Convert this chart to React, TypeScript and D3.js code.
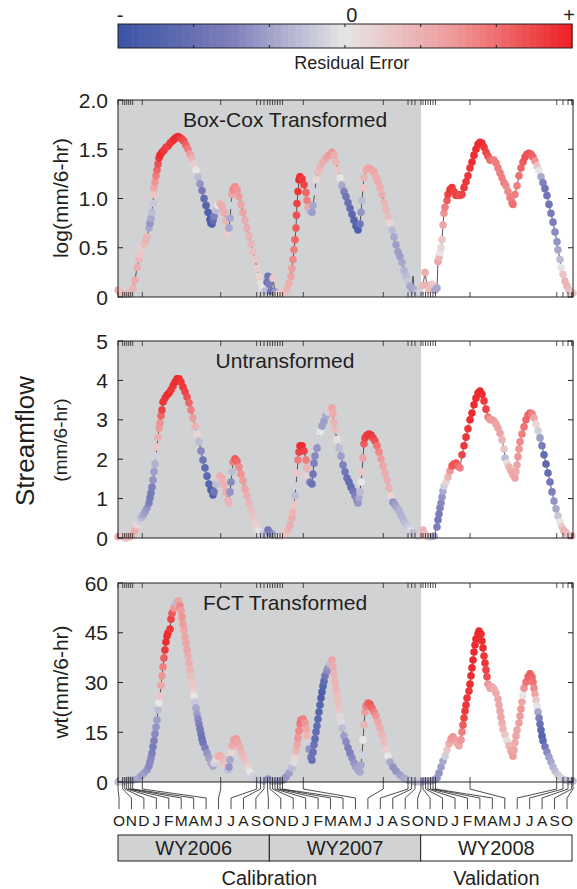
import * as React from "react"
import * as d3 from "d3"

const W = 577
const H = 889
const FONT = "'Liberation Sans', Arial, Helvetica, sans-serif"

// month boundaries (Oct 2005 .. Oct 2008) on the plotted time index
const monthTicks = [
  0, 4.7, 6.7, 8.7, 10.7, 12.7, 14.7, 24.3, 102.7, 138.7, 142.5, 146, 149.5,
  152, 154.5, 157, 159.5, 162, 164.5, 185.3, 265.3, 290, 293.7, 297, 303,
  305, 307.5, 310, 312.5, 315, 317.5, 352, 438.7, 445, 450, 453.7, 455,
]
const monthNames = ["O", "N", "D", "J", "F", "M", "A", "M", "J", "J", "A", "S"]
const monthLabels = [...monthNames, ...monthNames, ...monthNames, "O"]
const waterYears = ["WY2006", "WY2007", "WY2008"]
const periods = ["Calibration", "Validation"]
const calibrationEnd = 303

// [time index, value, residual error (-1..1)]
const boxCox = [
  [0, .07, .3], [3, .04, .25], [7, .03, .3], [11, .03, .25], [15, .09, .3], [17, .17, .35], [19, .3, .35], [21, .38, .3],
  [22, .43, .2], [24, .5, .15], [26, .53, .25], [28, .58, .35], [29, .61, .3], [31, .7, -.3], [32, .75, -.4], [33, .8, -.3],
  [34, .86, -.2], [35, .95, -.15], [35.5, 1.04, .2], [36, 1.11, .4], [37, 1.17, .5], [38, 1.23, .6], [39, 1.29, .7], [40, 1.35, .8],
  [41, 1.41, .9], [42, 1.44, .95], [44, 1.47, .95], [46, 1.49, .9], [48, 1.52, .9], [50, 1.53, .85], [52, 1.56, .9], [54, 1.58, .9],
  [56, 1.6, .95], [58, 1.62, .95], [60, 1.63, .95], [62, 1.62, .9], [64, 1.6, .85], [66, 1.58, .8], [68, 1.54, .7], [70, 1.5, .6],
  [72, 1.45, .45], [74, 1.4, .3], [76, 1.35, .15], [78, 1.29, 0], [80, 1.22, -.2], [82, 1.15, -.4], [84, 1.08, -.55], [86, 1, -.7],
  [88, .93, -.8], [90, .86, -.85], [92, .79, -.9], [93, .75, -.9], [94, .74, -.85], [95, .78, -.7], [96, .82, -.5], [98, .88, -.2],
  [100, .93, 0], [102, .95, .3], [104, .92, .35], [106, .86, .35], [108, .78, .3], [109, .7, .2], [110, .63, .15], [111, .7, -.3],
  [112, .8, -.3], [113, .93, -.1], [114, 1.04, .4], [115, 1.09, .55], [117, 1.12, .55], [119, 1.09, .5], [121, 1.02, .45], [123, .94, .4],
  [125, .86, .4], [127, .78, .35], [129, .7, .35], [131, .62, .3], [133, .54, .3], [135, .46, .25], [137, .38, .2], [139, .29, .15],
  [141, .21, .1], [143, .14, .05], [145, .09, 0], [147, .06, -.2], [149, .15, -.6], [150, .21, -.6], [151, .13, -.5], [153, .06, -.6],
  [155, .19, .2], [157, .05, -.4], [160, .03, .1], [164, .04, .2], [167, .05, .25], [169, .09, .3], [171, .14, .35], [173, .21, .4],
  [174, .29, .45], [175, .38, .55], [176, .48, .6], [177, .58, .7], [178, .7, .75], [178.5, .83, .8], [179, .95, .85], [180, 1.07, .9],
  [181, 1.19, .95], [182, 1.22, .95], [184, 1.2, .9], [186, 1.14, .85], [188, 1.06, .7], [189, .98, .6], [190, .91, .4], [192, .87, -.2],
  [194, .86, -.35], [195, .93, -.3], [197, 1.07, -.1], [198, 1.19, .1], [200, 1.27, .25], [202, 1.32, .3], [205, 1.37, .35], [208, 1.41, .4],
  [211, 1.44, .45], [214, 1.47, .5], [216, 1.44, .35], [218, 1.37, .3], [220, 1.29, .2], [222, 1.21, 0], [224, 1.13, -.3], [226, 1.07, -.5],
  [228, 1.02, -.6], [230, .96, -.65], [232, .9, -.7], [234, .84, -.75], [236, .78, -.8], [238, .72, -.8], [240, .68, -.85], [242, .74, -.6],
  [243, .86, -.4], [244, .98, -.2], [245, 1.11, .2], [246, 1.21, .3], [248, 1.29, .35], [250, 1.31, .4], [253, 1.3, .4], [256, 1.27, .4],
  [258, 1.22, .35], [260, 1.17, .35], [262, 1.11, .35], [264, 1.04, .35], [266, .96, .3], [268, .89, .3], [270, .82, .25], [272, .75, .1],
  [274, .68, -.2], [276, .61, -.3], [278, .53, -.35], [280, .46, -.35], [282, .41, -.35], [284, .35, -.3], [286, .27, -.25], [288, .21, -.2],
  [290, .16, -.15], [292, .11, -.3], [294, .08, -.3], [295, .25, -.1], [296, .07, -.3], [299, .05, -.2], [302, .05, -.1],
  [305, .12, .3], [307, .25, .35], [309, .12, .3], [311, .07, .25], [314, .13, .2], [317, .07, -.3], [319, .09, -.3], [320, .36, .4],
  [321, .4, .3], [322, .45, 0], [323, .5, .1], [324, .58, .2], [325, .73, .4], [326, .85, .5], [327, .91, .6], [329, .98, .75],
  [330, 1.04, .85], [332, 1.09, .9], [334, 1.11, .9], [336, 1.07, .85], [338, 1.03, .85], [340, 1.04, .85], [342, 1.03, .8], [344, 1.04, .85],
  [346, 1.11, .9], [348, 1.17, .9], [350, 1.23, .9], [352, 1.31, .9], [354, 1.37, .95], [356, 1.44, .95], [358, 1.5, .95], [360, 1.55, .95],
  [362, 1.57, .95], [364, 1.56, .95], [366, 1.52, .9], [368, 1.47, .85], [370, 1.43, .8], [372, 1.39, .7], [374, 1.39, .65], [376, 1.39, .6],
  [378, 1.36, .6], [380, 1.31, .6], [382, 1.26, .6], [384, 1.21, .6], [386, 1.16, .6], [388, 1.13, .55], [390, 1.07, .55], [392, 1.01, .6],
  [394, .96, .6], [395, .94, .65], [397, 1.04, .6], [399, 1.13, .6], [401, 1.23, .65], [403, 1.31, .7], [405, 1.37, .75], [407, 1.42, .8],
  [409, 1.45, .8], [411, 1.46, .8], [413, 1.45, .75], [415, 1.42, .7], [417, 1.38, .5], [419, 1.33, .2], [421, 1.28, 0], [423, 1.22, -.3],
  [425, 1.16, -.5], [427, 1.1, -.6], [429, 1.03, -.6], [431, .94, -.6], [433, .85, -.55], [435, .76, -.5], [437, .66, -.45], [439, .56, -.4],
  [440, .48, -.3], [442, .38, -.2], [443, .3, 0], [445, .23, .2], [447, .16, .3], [449, .11, .3], [451, .07, .25], [453, .05, .2], [455, .04, .2],
]

const untransformed = [
  [0, .03, .3], [4, .03, .2], [8, 0, .25], [12, .03, .3], [15, .08, .3], [17, .2, .35], [19, .33, .1], [21, .43, -.1],
  [23, .51, -.2], [25, .58, -.3], [27, .66, -.35], [29, .76, -.4], [31, .89, -.5], [32, 1.02, -.55], [33, 1.14, -.55], [34, 1.29, -.5],
  [35, 1.47, -.4], [36, 1.68, -.35], [37, 1.88, -.25], [38, 2.08, -.1], [39, 2.31, .2], [40, 2.56, .35], [41, 2.79, .45], [42, 2.92, .5],
  [43, 3.1, .7], [44, 3.25, .85], [45, 3.45, .9], [47, 3.55, .9], [49, 3.63, .95], [51, 3.68, .95], [53, 3.76, .9], [55, 3.86, .9],
  [57, 3.96, .95], [59, 4.04, .95], [61, 4.04, .95], [63, 3.96, .9], [65, 3.83, .9], [67, 3.71, .85], [69, 3.58, .8], [71, 3.43, .7],
  [73, 3.25, .6], [75, 3.05, .45], [77, 2.84, .3], [79, 2.64, .1], [81, 2.44, -.2], [83, 2.21, -.45], [85, 1.98, -.6], [87, 1.78, -.7],
  [89, 1.57, -.75], [91, 1.37, -.8], [93, 1.22, -.85], [95, 1.09, -.85], [96, 1.17, -.6], [98, 1.37, -.2], [100, 1.52, .2], [102, 1.57, .35],
  [104, 1.5, .35], [106, 1.35, .35], [108, 1.17, .35], [110, .96, .3], [111, .89, .3], [112, 1.17, -.4], [113, 1.42, -.45], [114, 1.68, -.2],
  [115, 1.93, .6], [117, 2.01, .75], [119, 1.95, .7], [121, 1.8, .55], [123, 1.62, .5], [125, 1.45, .45], [127, 1.24, .4], [129, 1.07, .35],
  [131, .89, .3], [133, .71, .25], [135, .53, .2], [137, .38, .15], [139, .25, .1], [141, .15, 0], [144, .1, -.1], [147, .08, -.2],
  [150, .2, -.6], [152, .13, -.5], [155, .08, -.4], [159, .05, -.1], [163, .05, .1], [167, .1, .2], [170, .2, .3], [172, .33, .35],
  [174, .51, .35], [175, .66, .3], [176, .84, .2], [177, 1.07, -.2], [178, 1.32, -.1], [179, 1.65, .2], [180, 1.98, .6], [181, 2.18, .85],
  [182, 2.34, .95], [184, 2.34, .95], [186, 2.21, .85], [188, 1.98, .6], [189, 1.78, .3], [190, 1.57, .1], [192, 1.42, -.5], [194, 1.37, -.65],
  [195, 1.62, -.6], [196, 1.9, -.5], [197, 2.08, -.45], [199, 2.28, -.4], [201, 2.49, -.1], [202, 2.69, 0], [204, 2.84, -.35], [206, 2.97, -.35],
  [208, 3.1, -.3], [210, 3.2, -.1], [212, 3.25, .2], [214, 3.3, .4], [215, 3.15, .35], [216, 2.94, .3], [217, 2.74, .25], [219, 2.49, .05],
  [221, 2.28, -.2], [223, 2.08, -.35], [225, 1.85, -.5], [227, 1.68, -.6], [229, 1.52, -.65], [231, 1.42, -.7], [233, 1.29, -.7], [235, 1.19, -.6],
  [237, 1.07, -.5], [239, .96, -.45], [240, .89, -.4], [241, 1.02, -.3], [242, 1.17, -.2], [243, 1.42, 0], [244, 1.68, .2], [245, 2.03, .4],
  [246, 2.39, .75], [247, 2.54, .85], [249, 2.61, .9], [251, 2.64, .9], [253, 2.61, .9], [255, 2.54, .85], [257, 2.46, .8], [259, 2.34, .65],
  [261, 2.18, .55], [263, 2.01, .45], [265, 1.83, .4], [267, 1.65, .35], [269, 1.47, .35], [271, 1.27, .3], [273, 1.07, .1], [275, .91, -.4],
  [277, .84, -.35], [279, .76, -.3], [281, .69, -.25], [283, .58, -.25], [285, .48, -.25], [287, .38, -.2], [289, .3, -.15], [291, .23, -.1],
  [293, .18, -.05], [295, .13, -.2], [297, .08, -.2], [300, .05, -.1],
  [303, .08, .2], [305, .2, .3], [307, .1, .25], [310, .03, .2], [313, .03, -.2], [316, .05, -.3], [319, .28, -.5], [320, .46, -.55],
  [321, .61, -.55], [322, .76, -.5], [323, .89, -.45], [324, 1.04, -.4], [325, 1.19, -.3], [326, 1.32, -.1], [328, 1.42, .1], [330, 1.55, .3],
  [332, 1.7, .5], [334, 1.83, .75], [336, 1.88, .8], [338, 1.9, .8], [340, 1.83, .7], [342, 1.78, .6], [344, 2.11, .85], [346, 2.34, .9],
  [348, 2.56, .9], [350, 2.77, .9], [352, 3, .95], [354, 3.17, .95], [356, 3.38, .95], [358, 3.55, .95], [360, 3.68, .95], [362, 3.73, .95],
  [364, 3.65, .95], [366, 3.48, .9], [368, 3.27, .85], [370, 3.07, .6], [372, 3, .45], [374, 3, .45], [376, 2.97, .45], [378, 2.89, .4],
  [380, 2.79, .4], [382, 2.66, .4], [384, 2.49, .3], [386, 2.26, .2], [387, 2.03, -.2], [389, 1.9, .05], [391, 1.8, .3], [393, 1.7, .35],
  [395, 1.6, .4], [397, 1.52, .4], [398, 1.68, .35], [399, 1.85, .4], [400, 2.06, .5], [401, 2.26, .5], [402, 2.44, .55], [404, 2.64, .6],
  [406, 2.82, .65], [408, 3, .7], [410, 3.12, .7], [412, 3.17, .7], [414, 3.15, .6], [416, 3.05, .4], [418, 2.89, .1], [420, 2.72, -.1],
  [422, 2.54, -.35], [424, 2.34, -.55], [426, 2.11, -.7], [428, 1.88, -.75], [430, 1.65, -.7], [432, 1.42, -.6], [434, 1.17, -.5], [436, .94, -.4],
  [438, .74, -.3], [440, .56, -.15], [442, .41, 0], [444, .28, .2], [446, .18, .3], [448, .13, .3], [450, .08, .25], [452, .05, .2], [454, .05, .2],
]

const fct = [
  [0, 0, -.2], [3, 0, -.1], [7, .3, -.2], [11, .6, -.3], [15, .6, -.3], [19, .9, -.3], [23, 1.8, -.35], [26, 2.7, -.35],
  [29, 3.6, -.4], [31, 4.8, -.45], [32, 6, -.45], [33, 7.2, -.45], [34, 8.7, -.5], [35, 10.6, -.55], [36, 12.4, -.5], [37, 14.5, -.45],
  [38, 16.6, -.4], [39, 18.7, -.35], [40, 21.7, -.2], [41, 23.8, 0], [42, 25.9, .2], [43, 29.2, .4], [44, 32, .5], [45, 34.7, .6],
  [46, 37.4, .75], [47, 39.8, .9], [48, 42.2, .95], [49, 44, .95], [50, 44.9, .95], [52, 46.1, .9], [53, 49.1, .85], [54, 50.9, .75],
  [56, 52.5, .5], [58, 54, -.2], [60, 54.6, .4], [62, 53.1, .55], [63, 51.6, .45], [64, 49.7, .5], [65, 47.6, .45], [66, 45.8, .4],
  [67, 43.7, .4], [68, 41.9, .4], [69, 39.8, .4], [70, 38, .35], [71, 35.9, .35], [72, 33.8, .3], [73, 31.7, .25], [74, 29.8, .2],
  [75, 27.7, .15], [76, 25.9, 0], [77, 24.1, -.15], [78, 22.3, -.3], [79, 20.5, -.35], [80, 19, -.45], [81, 17.5, -.5], [82, 16, -.55],
  [83, 14.5, -.6], [84, 13, -.65], [85, 11.8, -.6], [87, 10.3, -.5], [89, 8.7, -.4], [91, 7.2, -.35], [93, 5.7, -.3], [95, 4.8, -.3],
  [96, 5.7, -.1], [98, 6.9, .1], [100, 7.8, .3], [102, 7.8, .35], [104, 7.2, .3], [106, 6, .25], [108, 4.8, .2], [110, 3.6, -.2],
  [111, 4.5, -.4], [112, 6.6, -.3], [113, 9, .1], [114, 10.9, .35], [116, 12.7, .45], [118, 13, .45], [120, 11.8, .4], [122, 10.3, .35],
  [124, 8.7, .3], [126, 7.2, .25], [128, 5.7, .2], [130, 4.2, .1], [132, 3, 0], [135, 1.8, -.1], [138, .9, -.15], [142, .6, -.2],
  [146, .3, -.2], [150, .9, -.4], [154, .3, -.3], [158, .3, -.3], [162, .3, -.35], [165, .6, -.4], [168, 1.5, -.4], [171, 2.7, -.35],
  [174, 4.2, -.2], [176, 6, -.05], [177, 7.5, .1], [178, 9.3, .3], [179, 11.2, .4], [180, 13.3, .5], [181, 15.4, .55], [182, 17.5, .6],
  [183, 18.7, .65], [185, 19, .6], [187, 17.8, .5], [188, 16, .4], [189, 13.9, .3], [190, 11.8, -.1], [191, 9.9, -.4], [193, 7.5, -.6],
  [194, 6.6, -.65], [195, 9, -.65], [196, 11.2, -.65], [197, 13, -.7], [198, 15.1, -.7], [199, 16.9, -.7], [200, 19, -.75], [201, 21.1, -.8],
  [202, 23.2, -.8], [203, 25.3, -.85], [204, 27.1, -.85], [205, 28.9, -.8], [206, 30.4, -.7], [207, 32, -.6], [209, 33.5, -.45], [210, 34.4, -.4],
  [212, 35.6, -.2], [214, 36.8, .4], [215, 34.7, .35], [216, 32.6, .3], [217, 30.4, .3], [218, 28.3, .3], [219, 26.2, .25], [220, 24.1, .25],
  [221, 22, .2], [222, 19.9, .1], [223, 18.1, -.05], [224, 16.3, -.2], [226, 13.9, -.35], [228, 12.1, -.45], [230, 10.3, -.5], [232, 8.7, -.5],
  [234, 7.2, -.45], [236, 5.7, -.4], [238, 4.5, -.35], [240, 3.6, -.3], [242, 3, -.3], [243, 5.1, -.3], [244, 8.1, -.1], [245, 12.7, 0],
  [246, 17.2, .3], [247, 21.1, .45], [248, 22.9, .6], [250, 23.8, .7], [252, 23.5, .75], [254, 22.3, .7], [256, 21.1, .6], [258, 19.9, .5],
  [260, 18.1, .4], [262, 16.3, .35], [264, 14.2, .3], [266, 12.1, .25], [268, 9.9, .15], [270, 7.8, 0], [272, 6, -.3], [275, 4.5, -.4],
  [278, 3.3, -.4], [282, 2.1, -.35], [286, 1.2, -.3], [290, .6, -.25], [294, .3, -.2], [298, 0, -.2],
  [303, 0, -.2], [307, .3, -.3], [312, .3, -.3], [316, .6, -.35], [319, 1.2, -.4], [321, 2.7, -.4], [323, 4.5, -.35], [325, 6.3, -.3],
  [327, 7.8, -.1], [329, 9.6, .2], [331, 11.5, .35], [333, 13, .45], [335, 13.6, .5], [337, 12.7, .45], [339, 11.8, .4], [341, 10.9, .4],
  [343, 12.7, .5], [344, 15.1, .6], [345, 17.2, .75], [346, 19.3, .85], [347, 21.4, .9], [348, 23.2, .9], [349, 25.3, .9], [351, 27.4, .9],
  [352, 29.5, .95], [353, 32, .95], [354, 34.4, .95], [355, 36.8, .95], [356, 39.2, .95], [357, 41.3, .95], [358, 43.1, .95], [360, 44.6, .95],
  [361, 45.5, .95], [363, 44.6, .95], [364, 42.5, .95], [365, 40.4, .95], [366, 38, .9], [367, 35.9, .9], [368, 33.8, .85], [369, 31.7, .8],
  [370, 29.5, .5], [372, 28.3, .4], [374, 28.6, .4], [376, 28, .35], [378, 26.8, .35], [380, 25, .4], [381, 23.2, .4], [382, 21.4, .4],
  [383, 19.6, .4], [384, 17.8, .35], [385, 16, .3], [387, 14.2, .2], [389, 12.4, .05], [391, 10.9, .3], [393, 9.3, .4], [395, 7.8, .45],
  [396, 9.6, .4], [397, 11.8, .35], [398, 13.9, .4], [399, 15.7, .4], [401, 17.8, .45], [402, 19.9, .45], [403, 22, .5], [404, 24.1, .4],
  [405, 26.2, 0], [406, 28.3, .5], [408, 30.1, .65], [410, 31.7, .7], [412, 32.6, .75], [414, 31.7, .7], [415, 30.1, .65], [416, 28.3, .55],
  [417, 26.5, .4], [418, 24.7, .2], [419, 22.9, 0], [420, 21.1, -.3], [421, 19.3, -.5], [422, 17.5, -.65], [423, 15.7, -.75], [424, 13.9, -.8],
  [425, 12.4, -.75], [427, 10.6, -.6], [429, 9, -.45], [431, 7.5, -.35], [433, 6, -.3], [435, 4.5, -.25], [437, 3.3, -.2], [440, 2.1, -.15],
  [443, 1.2, -.1], [447, .6, -.2], [451, .3, -.2], [455, .3, -.2],
]

const panels = [
  { title: "Box-Cox Transformed", data: boxCox, max: 2, ticks: [0, 0.5, 1, 1.5, 2], fmt: (d) => (d === 0 ? "0" : d.toFixed(1)), top: 100, bottom: 297 },
  { title: "Untransformed", data: untransformed, max: 5, ticks: [0, 1, 2, 3, 4, 5], fmt: (d) => String(d), top: 341, bottom: 538 },
  { title: "FCT Transformed", data: fct, max: 60, ticks: [0, 15, 30, 45, 60], fmt: (d) => String(d), top: 583, bottom: 782 },
]

const errColor = d3
  .scaleLinear()
  .domain([-1, -0.5, 0, 0.5, 1])
  .range(["#3a53a4", "#7e7fbc", "#e6e6e6", "#ef9596", "#ed2024"])
  .clamp(true)

const LEFT = 118
const RIGHT = 573
const INK = "#231f20"

export default function App() {
  const x = d3.scaleLinear().domain([0, 455]).range([LEFT, RIGHT])
  const labelX = d3.scaleLinear().domain([0, 36]).range([119, 567])
  const boxX = d3.scaleLinear().domain([0, 3]).range([118, 572])
  const barX = d3.scaleLinear().domain([-1, 1]).range([118, 572])
  const steps = d3.range(64)
  const stepW = (572 - 118) / 64

  return (
    <svg width={W} height={H} style={{ position: "absolute", left: 0, top: 0, background: "#fff" }} fontFamily={FONT}>
      {/* colour bar */}
      <g>
        {steps.map((i) => (
          <rect key={i} x={118 + i * stepW} y={24} width={stepW + 0.6} height={24} fill={errColor(-1 + (2 * (i + 0.5)) / 64)} />
        ))}
        <rect x={118} y={24} width={454} height={24} fill="none" stroke={INK} strokeWidth={1} />
        {[1, 2, 3, 4, 5].map((k) => {
          const xx = barX(-1 + k / 3)
          return (
            <g key={k} stroke={INK}>
              <line x1={xx} x2={xx} y1={24} y2={27} />
              <line x1={xx} x2={xx} y1={45} y2={48} />
            </g>
          )
        })}
        <text x={120} y={15} fontSize={20} textAnchor="middle" dominantBaseline="central" fill={INK}>-</text>
        <text x={barX(0.03)} y={15} fontSize={20} textAnchor="middle" dominantBaseline="central" fill={INK}>0</text>
        <text x={569} y={15} fontSize={20} textAnchor="middle" dominantBaseline="central" fill={INK}>+</text>
        <text x={barX(0.03)} y={63} fontSize={18} textAnchor="middle" dominantBaseline="central" fill={INK}>Residual Error</text>
      </g>

      {panels.map((p, pi) => {
        const y = d3.scaleLinear().domain([0, p.max]).range([p.bottom, p.top])
        const line = d3
          .line()
          .x((d) => x(d[0]))
          .y((d) => y(d[1]))
        return (
          <g key={pi}>
            <rect x={LEFT} y={p.top} width={x(calibrationEnd) - LEFT} height={p.bottom - p.top} fill="#d1d2d4" />
            <text x={285} y={p.top + 19} fontSize={21} textAnchor="middle" dominantBaseline="central" fill={INK}>
              {p.title}
            </text>
            <path d={line(p.data)} fill="none" stroke="#555" strokeWidth={1} />
            {p.data.map((d, i) => (
              <circle key={i} cx={x(d[0])} cy={y(d[1])} r={3.8} fill={errColor(d[2])} />
            ))}
            <rect x={LEFT} y={p.top} width={RIGHT - LEFT} height={p.bottom - p.top} fill="none" stroke={INK} strokeWidth={1} />
            {monthTicks.map((t, i) => (
              <g key={i} stroke={INK} strokeWidth={0.8}>
                <line x1={x(t)} x2={x(t)} y1={p.top} y2={p.top + 5} />
                <line x1={x(t)} x2={x(t)} y1={p.bottom} y2={p.bottom - 5} />
              </g>
            ))}
            {p.ticks.map((t) => (
              <g key={t}>
                <line x1={LEFT} x2={LEFT + 5} y1={y(t)} y2={y(t)} stroke={INK} />
                <line x1={RIGHT} x2={RIGHT - 5} y1={y(t)} y2={y(t)} stroke={INK} />
                <text x={108} y={y(t)} fontSize={21} textAnchor="end" dominantBaseline="central" fill={INK}>
                  {p.fmt(t)}
                </text>
              </g>
            ))}
          </g>
        )
      })}

      {/* y axis titles */}
      <text transform="translate(60,198) rotate(-90)" fontSize={21} textAnchor="middle" dominantBaseline="central" fill={INK}>log(mm/6-hr)</text>
      <text transform="translate(25,441) rotate(-90)" fontSize={26} textAnchor="middle" dominantBaseline="central" fill={INK}>Streamflow</text>
      <text transform="translate(60,440) rotate(-90)" fontSize={19} textAnchor="middle" dominantBaseline="central" fill={INK}>(mm/6-hr)</text>
      <text transform="translate(60,682) rotate(-90)" fontSize={21} textAnchor="middle" dominantBaseline="central" fill={INK}>wt(mm/6-hr)</text>

      {/* month leader lines and labels */}
      {monthTicks.map((t, i) => (
        <g key={i}>
          <path d={`M${x(t)},782 V789 L${labelX(i)},798 V809`} fill="none" stroke={INK} strokeWidth={0.8} />
          <text x={labelX(i)} y={820} fontSize={15.5} textAnchor="middle" dominantBaseline="central" fill={INK}>
            {monthLabels[i]}
          </text>
        </g>
      ))}

      {/* water year boxes */}
      {waterYears.map((wy, i) => (
        <g key={wy}>
          <rect
            x={boxX(i)}
            y={835}
            width={boxX(i + 1) - boxX(i)}
            height={26}
            fill={i < 2 ? "#d1d2d4" : "#fff"}
            stroke={INK}
            strokeWidth={1}
          />
          <text x={boxX(i + 0.5)} y={848} fontSize={20} textAnchor="middle" dominantBaseline="central" fill={INK}>
            {wy}
          </text>
        </g>
      ))}
      <text x={boxX(1)} y={878} fontSize={20} textAnchor="middle" dominantBaseline="central" fill={INK}>{periods[0]}</text>
      <text x={boxX(2.5)} y={878} fontSize={20} textAnchor="middle" dominantBaseline="central" fill={INK}>{periods[1]}</text>
    </svg>
  )
}
